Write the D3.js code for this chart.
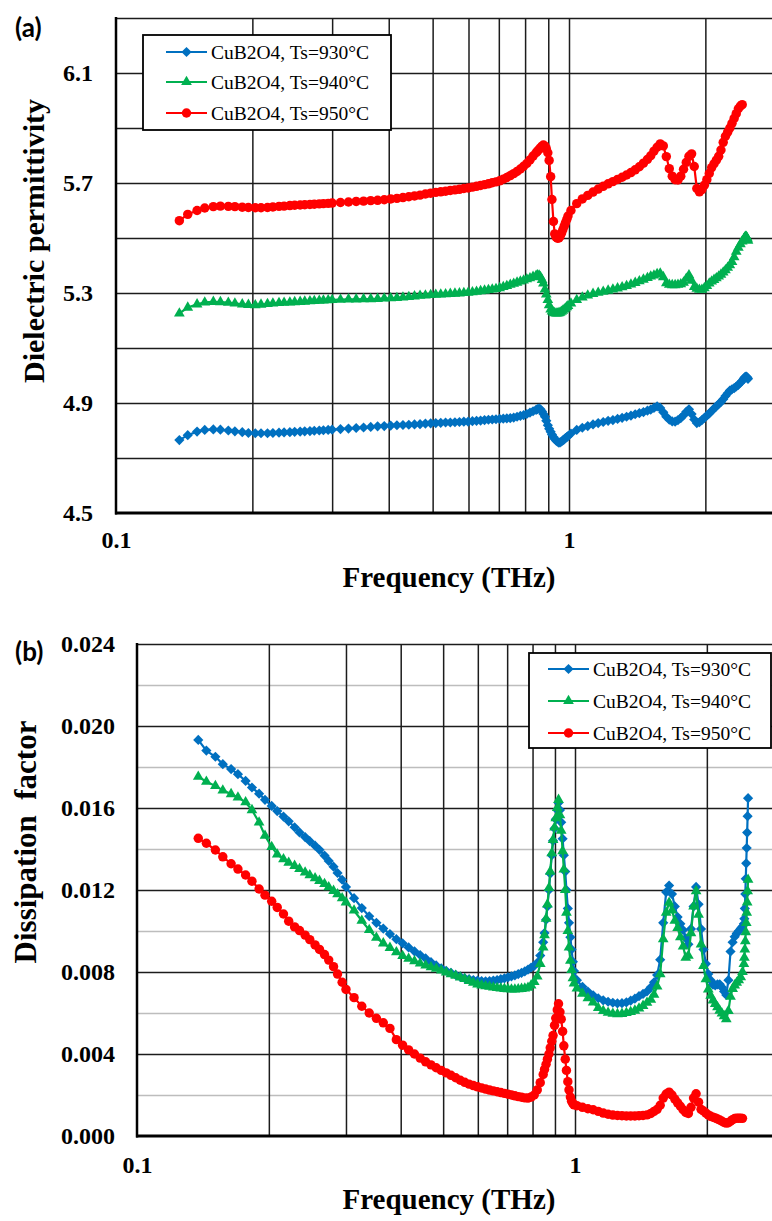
<!DOCTYPE html>
<html>
<head>
<meta charset="utf-8">
<script src="https://cdn.jsdelivr.net/npm/d3@7"></script>
<style>
  body { margin: 0; background: #fff; }
  svg { display: block; }
</style>
</head>
<body>
<div id="chart"></div>
<script>
// Frequency grid (THz), shared by every series
var freq = [
  0.138, 0.144, 0.151, 0.157, 0.164, 0.170, 0.177, 0.183, 0.190, 0.196, 0.203, 0.209, 0.216,
  0.222, 0.229, 0.235, 0.242, 0.248, 0.255, 0.261, 0.268, 0.274, 0.281, 0.287, 0.294, 0.300,
  0.313, 0.326, 0.339, 0.352, 0.365, 0.378, 0.391, 0.404, 0.417, 0.430, 0.443, 0.456, 0.469,
  0.482, 0.495, 0.508, 0.521, 0.534, 0.547, 0.560, 0.573, 0.586, 0.599, 0.612, 0.625, 0.638,
  0.651, 0.664, 0.677, 0.690, 0.703, 0.716, 0.729, 0.742, 0.755, 0.768, 0.781, 0.794,
  0.807, 0.820, 0.833, 0.846, 0.852, 0.859, 0.865, 0.872, 0.878, 0.885, 0.891, 0.898, 0.904,
  0.911, 0.917, 0.924, 0.930, 0.937, 0.943, 0.950, 0.956, 0.963, 0.969, 0.976, 0.982, 0.989, 0.995,
  1.010, 1.040, 1.070, 1.100, 1.130, 1.160, 1.190, 1.220, 1.250, 1.280, 1.310, 1.340, 1.370,
  1.400, 1.430, 1.460, 1.490, 1.515,
  1.540, 1.565, 1.590, 1.615, 1.640, 1.665, 1.690, 1.715, 1.740, 1.765, 1.790, 1.815, 1.840,
  1.865, 1.890, 1.915, 1.940, 1.965, 1.990, 2.015, 2.040, 2.065, 2.090, 2.115, 2.140, 2.165,
  2.190, 2.215, 2.240, 2.265, 2.290, 2.315, 2.340, 2.365, 2.390, 2.412,
  2.430, 2.436, 2.442, 2.448, 2.454, 2.460, 2.466, 2.472, 2.478, 2.484
];

// (a) dielectric permittivity
var permBlue = [
  4.765, 4.783, 4.796, 4.802, 4.804, 4.803, 4.800, 4.797, 4.794, 4.791, 4.790, 4.790, 4.790,
  4.791, 4.792, 4.793, 4.794, 4.795, 4.796, 4.797, 4.798, 4.799, 4.800, 4.801, 4.802, 4.803,
  4.805, 4.807, 4.809, 4.811, 4.813, 4.815, 4.816, 4.818, 4.819, 4.820, 4.821, 4.822, 4.823,
  4.825, 4.826, 4.827, 4.828, 4.829, 4.829, 4.830, 4.831, 4.832, 4.832, 4.834, 4.835, 4.836,
  4.838, 4.839, 4.840, 4.841, 4.842, 4.843, 4.844, 4.845, 4.847, 4.850, 4.853, 4.856,
  4.860, 4.865, 4.870, 4.875, 4.878, 4.880, 4.877, 4.869, 4.860, 4.850, 4.835, 4.819, 4.806,
  4.795, 4.785, 4.776, 4.769, 4.763, 4.759, 4.756, 4.757, 4.760, 4.764, 4.768, 4.772, 4.776, 4.780,
  4.789, 4.802, 4.810, 4.816, 4.822, 4.827, 4.831, 4.835, 4.838, 4.842, 4.846, 4.850, 4.854,
  4.859, 4.863, 4.867, 4.872, 4.876,
  4.882, 4.888, 4.882, 4.866, 4.850, 4.839, 4.833, 4.832, 4.838, 4.845, 4.855, 4.868, 4.877,
  4.860, 4.840, 4.827, 4.830, 4.838, 4.846, 4.854, 4.862, 4.871, 4.880, 4.888, 4.896, 4.904,
  4.914, 4.925, 4.935, 4.945, 4.950, 4.954, 4.960, 4.966, 4.974, 4.981,
  4.987, 4.990, 4.992, 4.994, 4.995, 4.996, 4.995, 4.993, 4.991, 4.988
];
var permGreen = [
  5.226, 5.247, 5.259, 5.266, 5.268, 5.267, 5.265, 5.262, 5.259, 5.257, 5.256, 5.258, 5.260,
  5.262, 5.264, 5.265, 5.266, 5.267, 5.268, 5.269, 5.270, 5.271, 5.272, 5.273, 5.274, 5.275,
  5.276, 5.277, 5.277, 5.278, 5.278, 5.279, 5.280, 5.281, 5.282, 5.284, 5.286, 5.288, 5.290,
  5.291, 5.293, 5.294, 5.295, 5.296, 5.297, 5.298, 5.299, 5.300, 5.301, 5.303, 5.305, 5.307,
  5.309, 5.311, 5.313, 5.315, 5.318, 5.322, 5.326, 5.330, 5.334, 5.338, 5.342, 5.346,
  5.350, 5.354, 5.359, 5.363, 5.365, 5.364, 5.358, 5.348, 5.335, 5.313, 5.295, 5.275, 5.256,
  5.240, 5.233, 5.229, 5.227, 5.226, 5.226, 5.227, 5.229, 5.232, 5.236, 5.240, 5.244, 5.249, 5.253,
  5.262, 5.275, 5.284, 5.291, 5.297, 5.301, 5.305, 5.309, 5.313, 5.317, 5.321, 5.326, 5.331,
  5.337, 5.343, 5.349, 5.355, 5.360,
  5.364, 5.369, 5.371, 5.358, 5.336, 5.330, 5.329, 5.329, 5.330, 5.332, 5.338, 5.352, 5.365,
  5.345, 5.322, 5.316, 5.312, 5.312, 5.318, 5.326, 5.335, 5.342, 5.348, 5.354, 5.360, 5.367,
  5.375, 5.383, 5.392, 5.401, 5.413, 5.430, 5.450, 5.465, 5.478, 5.488,
  5.495, 5.498, 5.501, 5.503, 5.505, 5.505, 5.503, 5.500, 5.496, 5.490
];
var permRed = [
  5.563, 5.586, 5.600, 5.609, 5.614, 5.616, 5.615, 5.614, 5.612, 5.611, 5.610, 5.610, 5.611,
  5.613, 5.615, 5.616, 5.618, 5.619, 5.620, 5.621, 5.622, 5.623, 5.624, 5.625, 5.626, 5.627,
  5.629, 5.631, 5.633, 5.634, 5.636, 5.637, 5.639, 5.642, 5.644, 5.647, 5.650, 5.653, 5.656,
  5.660, 5.663, 5.666, 5.668, 5.670, 5.673, 5.675, 5.677, 5.680, 5.682, 5.685, 5.688, 5.691,
  5.694, 5.697, 5.701, 5.704, 5.708, 5.714, 5.720, 5.727, 5.734, 5.742, 5.751, 5.761,
  5.771, 5.784, 5.798, 5.810, 5.816, 5.822, 5.828, 5.834, 5.838, 5.834, 5.825, 5.810, 5.782,
  5.723, 5.640, 5.560, 5.515, 5.503, 5.499, 5.500, 5.507, 5.518, 5.530, 5.543, 5.555, 5.568, 5.580,
  5.600, 5.625, 5.642, 5.655, 5.667, 5.678, 5.688, 5.697, 5.705, 5.713, 5.721, 5.729, 5.738,
  5.748, 5.759, 5.772, 5.786, 5.799,
  5.816, 5.830, 5.842, 5.835, 5.796, 5.752, 5.725, 5.712, 5.711, 5.725, 5.750, 5.775, 5.797,
  5.806, 5.760, 5.680, 5.668, 5.676, 5.692, 5.712, 5.735, 5.756, 5.770, 5.783, 5.797, 5.820,
  5.848, 5.870, 5.885, 5.900, 5.917, 5.935, 5.952, 5.970, 5.980, 5.985,
  null, null, null, null, null, null, null, null, null, null
];

// (b) dissipation factor
var lossBlue = [
  .01932, .01880, .01850, .01814, .01790, .01765, .01732, .01700, .01670, .01640, .01610, .01585, .01558,
  .01535, .01506, .01481, .01458, .01438, .01416, .01396, .01368, .01342, .01314, .01283, .01250, .01215,
  .01160, .01112, .01072, .01040, .01012, .00985, .00960, .00940, .00920, .00901, .00883, .00866, .00848,
  .00832, .00818, .00806, .00796, .00786, .00777, .00770, .00765, .00761, .00758, .00756, .00755, .00756,
  .00758, .00761, .00765, .00769, .00774, .00779, .00784, .00790, .00796, .00803, .00812, .00822,
  .00830, .00845, .00880, .00945, .00990, .01055, .01120, .01200, .01280, .01370, .01440, .01500, .01545,
  .01590, .01625, .01590, .01530, .01450, .01370, .01290, .01200, .01110, .01040, .00970, .00910, .00850, .00805,
  .00760, .00728, .00705, .00686, .00672, .00662, .00655, .00650, .00647, .00648, .00652, .00660, .00670,
  .00682, .00693, .00705, .00725, .00750,
  .00785, .00860, .01040, .01190, .01222, .01180, .01120, .01068, .01035, .01005, .00965, .00935, .01010,
  .01120, .01215, .01130, .01010, .00910, .00840, .00790, .00760, .00738, .00735, .00740, .00740, .00725,
  .00705, .00688, .00760, .00900, .00945, .00972, .00988, .01000, .01012, .01022,
  .01035, .01060, .01110, .01180, .01255, .01330, .01405, .01480, .01560, .01648
];
var lossGreen = [
  .01753, .01728, .01708, .01686, .01668, .01652, .01628, .01590, .01530, .01465, .01410, .01374, .01350,
  .01333, .01318, .01303, .01286, .01272, .01258, .01245, .01230, .01214, .01196, .01180, .01160, .01140,
  .01100, .01050, .01005, .00967, .00940, .00918, .00897, .00878, .00865, .00853, .00842, .00832, .00824,
  .00816, .00808, .00798, .00790, .00782, .00774, .00766, .00757, .00748, .00740, .00735, .00731, .00728,
  .00725, .00722, .00720, .00718, .00716, .00715, .00715, .00716, .00718, .00720, .00724, .00735,
  .00752, .00778, .00840, .00920, .00980, .01060, .01130, .01210, .01290, .01380, .01445, .01505, .01550,
  .01600, .01640, .01565, .01490, .01390, .01300, .01200, .01090, .01000, .00920, .00855, .00810, .00770, .00745,
  .00720, .00695, .00672, .00652, .00625, .00610, .00602, .00597, .00595, .00596, .00600, .00605, .00612,
  .00622, .00635, .00650, .00665, .00690,
  .00730, .00790, .00960, .01090, .01138, .01100, .01050, .01015, .00970, .00925, .00870, .00880, .00990,
  .01120, .01195, .01080, .00935, .00830, .00765, .00715, .00685, .00662, .00645, .00628, .00612, .00598,
  .00585, .00570, .00610, .00680, .00718, .00735, .00748, .00760, .00775, .00800,
  .00840, .00870, .00910, .00950, .00995, .01040, .01090, .01140, .01195, .01250
];
var lossRed = [
  .01452, .01428, .01395, .01362, .01328, .01302, .01273, .01243, .01205, .01175, .01145, .01115, .01083,
  .01048, .01020, .01002, .00980, .00958, .00932, .00910, .00885, .00858, .00826, .00790, .00750, .00715,
  .00675, .00633, .00600, .00574, .00552, .00525, .00470, .00443, .00420, .00400, .00380, .00362, .00347,
  .00333, .00320, .00308, .00296, .00284, .00272, .00262, .00253, .00246, .00240, .00234, .00229, .00224,
  .00220, .00216, .00212, .00208, .00204, .00200, .00196, .00192, .00189, .00186, .00185, .00190,
  .00200, .00225, .00260, .00300, .00325, .00350, .00375, .00400, .00430, .00462, .00490, .00540, .00575,
  .00615, .00645, .00605, .00570, .00510, .00440, .00375, .00320, .00265, .00225, .00190, .00170, .00158, .00152,
  .00148, .00140, .00133, .00128, .00120, .00112, .00106, .00102, .00100, .00099, .00098, .00098, .00098,
  .00099, .00100, .00103, .00110, .00120,
  .00130, .00150, .00185, .00205, .00214, .00200, .00180, .00162, .00145, .00128, .00115, .00110, .00140,
  .00185, .00206, .00165, .00130, .00122, .00112, .00103, .00096, .00092, .00088, .00083, .00078, .00072,
  .00066, .00063, .00065, .00072, .00080, .00085, .00087, .00087, .00087, .00086,
  null, null, null, null, null, null, null, null, null, null
];

var seriesNames = ["CuB2O4, Ts=930°C", "CuB2O4, Ts=940°C", "CuB2O4, Ts=950°C"];

// axis ticks / grid
var freqGrid = [0.2, 0.3, 0.4, 0.5, 0.6, 0.7, 0.8, 0.9, 1, 2];
var freqTicks = [0.1, 1];
var permGrid = [4.7, 4.9, 5.1, 5.3, 5.5, 5.7, 5.9, 6.1, 6.3];
var permTicks = [4.5, 4.9, 5.3, 5.7, 6.1];
var lossGrid = [0.004, 0.008, 0.012, 0.016, 0.020, 0.024];
var lossMinor = [0.002, 0.006, 0.010, 0.014, 0.018, 0.022];
var lossTicks = [0, 0.004, 0.008, 0.012, 0.016, 0.020, 0.024];

var W = 772, H = 1221;
var colors = ["#0070C0", "#00B050", "#FF0000"];
var serif = "'Liberation Serif', 'Times New Roman', serif";

var markers = [
  { sym: d3.symbol(d3.symbolSquare, 52), rot: 45 },
  { sym: d3.symbol(d3.symbolTriangle, 50), rot: 0 },
  { sym: d3.symbol(d3.symbolCircle, 70), rot: 0 }
];

var svg = d3.select("#chart").append("svg")
  .attr("width", W)
  .attr("height", H);

function boldSerif(sel, size) {
  sel.attr("font-family", serif)
    .attr("font-size", size)
    .attr("font-weight", "bold")
    .attr("fill", "#000");
}

function drawPanel(p) {
  var x = d3.scaleLog().domain([0.1, 10]).range([p.left, p.left + 2 * p.decade]);
  var y = d3.scaleLinear().domain(p.yDomain).range([p.bottom, p.top]);
  var g = svg.append("g");

  // minor horizontal grid (grey)
  if (p.minor.length) {
    g.append("g")
      .attr("transform", "translate(" + p.left + ",0)")
      .call(d3.axisLeft(y).tickValues(p.minor).tickSize(-(W - p.left)).tickFormat(""))
      .call(function(s) {
        s.select(".domain").remove();
        s.selectAll("line").attr("stroke", "#bdbdbd").attr("stroke-width", 1.4);
      });
  }

  // major horizontal grid
  g.append("g")
    .attr("transform", "translate(" + p.left + ",0)")
    .call(d3.axisLeft(y).tickValues(p.grid).tickSize(-(W - p.left)).tickFormat(""))
    .call(function(s) {
      s.select(".domain").remove();
      s.selectAll("line").attr("stroke", "#1c1c1c").attr("stroke-width", 1.5);
    });

  // vertical grid
  g.append("g")
    .attr("transform", "translate(0," + p.bottom + ")")
    .call(d3.axisBottom(x).tickValues(freqGrid).tickSize(-(p.bottom - p.top)).tickFormat(""))
    .call(function(s) {
      s.select(".domain").remove();
      s.selectAll("line").attr("stroke", "#1c1c1c").attr("stroke-width", 1.5);
    });

  // series
  p.series.forEach(function(vals, k) {
    var pts = [];
    freq.forEach(function(f, i) {
      if (vals[i] != null) pts.push([f, vals[i]]);
    });
    var line = d3.line()
      .x(function(d) { return x(d[0]); })
      .y(function(d) { return y(d[1]); });
    g.append("path")
      .datum(pts)
      .attr("d", line)
      .attr("fill", "none")
      .attr("stroke", colors[k])
      .attr("stroke-width", 2.2);
    g.append("g").selectAll("path")
      .data(pts)
      .enter()
      .append("path")
      .attr("d", markers[k].sym)
      .attr("transform", function(d) {
        return "translate(" + x(d[0]) + "," + y(d[1]) + ") rotate(" + markers[k].rot + ")";
      })
      .attr("fill", colors[k]);
  });

  // spines
  g.append("line")
    .attr("x1", p.left).attr("x2", p.left)
    .attr("y1", p.top - 1).attr("y2", p.bottom + 1.5)
    .attr("stroke", "#000").attr("stroke-width", 2.5);
  g.append("line")
    .attr("x1", p.left - 1).attr("x2", W)
    .attr("y1", p.bottom).attr("y2", p.bottom)
    .attr("stroke", "#000").attr("stroke-width", 3);

  // tick labels
  g.append("g")
    .attr("transform", "translate(" + p.left + ",0)")
    .call(d3.axisLeft(y).tickValues(p.ticks).tickFormat(p.fmt).tickSize(0).tickPadding(p.yPad))
    .call(function(s) {
      s.select(".domain").remove();
      s.selectAll("text").call(boldSerif, 24);
    });
  g.append("g")
    .attr("transform", "translate(0," + p.bottom + ")")
    .call(d3.axisBottom(x).tickValues(freqTicks).tickFormat(function(d) { return String(d); })
      .tickSize(0).tickPadding(p.xPad))
    .call(function(s) {
      s.select(".domain").remove();
      s.selectAll("text").call(boldSerif, 24);
    });

  // titles
  g.append("text")
    .attr("x", 449).attr("y", p.xTitleY)
    .attr("text-anchor", "middle")
    .call(boldSerif, 29)
    .text("Frequency (THz)");
  g.append("text")
    .attr("transform", "translate(" + p.yTitleX + "," + p.yTitleY + ") rotate(-90)")
    .attr("text-anchor", "middle")
    .call(boldSerif, p.yTitleSize)
    .style("white-space", "pre")
    .text(p.yTitle);
  g.append("text")
    .attr("x", 15).attr("y", p.tagY)
    .attr("font-family", "Lato, 'Open Sans', sans-serif").attr("font-size", 26).attr("font-weight", "bold")
    .text(p.tag);

  // legend
  var L = p.legend;
  var lg = g.append("g");
  lg.append("rect")
    .attr("x", L.x).attr("y", L.y).attr("width", L.w).attr("height", L.h)
    .attr("fill", "#fff").attr("stroke", "#000").attr("stroke-width", 1.8);
  seriesNames.forEach(function(name, k) {
    var ry = L.rows[k];
    lg.append("line")
      .attr("x1", L.lx1).attr("x2", L.lx2).attr("y1", ry).attr("y2", ry)
      .attr("stroke", colors[k]).attr("stroke-width", 2);
    lg.append("path")
      .attr("d", markers[k].sym)
      .attr("transform", "translate(" + ((L.lx1 + L.lx2) / 2) + "," + ry + ") rotate(" + markers[k].rot + ")")
      .attr("fill", colors[k]);
    lg.append("text")
      .attr("x", L.tx).attr("y", ry + 7)
      .attr("font-family", serif).attr("font-size", 19.5)
      .text(name);
  });
}

drawPanel({
  left: 116, decade: 453, top: 18, bottom: 513,
  yDomain: [4.5, 6.3],
  grid: permGrid, minor: [], ticks: permTicks, fmt: d3.format(".1f"),
  series: [permBlue, permGreen, permRed],
  yPad: 23, xPad: 18,
  xTitleY: 587, yTitle: "Dielectric permittivity", yTitleX: 44, yTitleY: 241, yTitleSize: 30,
  tag: "(a)", tagY: 37,
  legend: { x: 143, y: 35, w: 248, h: 95, rows: [52, 82, 113], lx1: 166, lx2: 207, tx: 211 }
});

drawPanel({
  left: 137, decade: 438, top: 644, bottom: 1136,
  yDomain: [0, 0.024],
  grid: lossGrid, minor: lossMinor, ticks: lossTicks, fmt: d3.format(".3f"),
  series: [lossBlue, lossGreen, lossRed],
  yPad: 22, xPad: 20,
  xTitleY: 1209, yTitle: "Dissipation  factor", yTitleX: 36, yTitleY: 842, yTitleSize: 31,
  tag: "(b)", tagY: 661,
  legend: { x: 529, y: 653, w: 242, h: 95, rows: [669, 701, 733], lx1: 548, lx2: 589, tx: 593 }
});
</script>
</body>
</html>
